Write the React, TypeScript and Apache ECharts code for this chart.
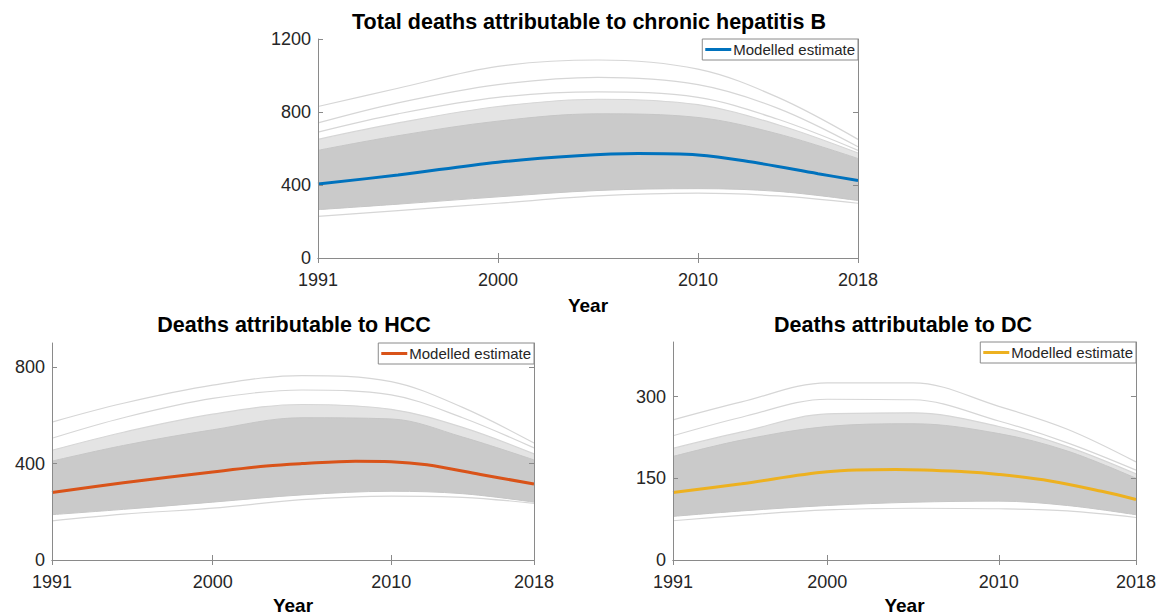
import React, { useEffect, useRef } from "react";
import * as echarts from "echarts";

// ---------- data ----------
const years = [1991, 1995, 2000, 2005, 2010, 2014, 2018];
const xTicks = [1991, 2000, 2010, 2018];

// Total deaths
const totalLow = [265, 295, 335, 370, 380, 365, 315];
const totalHigh = [590, 670, 750, 790, 770, 680, 545];
const totalG1 = [830, 930, 1050, 1085, 1035, 880, 650];
const totalG2 = [740, 850, 950, 990, 950, 820, 610];
const totalG3 = [690, 790, 880, 910, 880, 760, 590];
const totalG4 = [650, 740, 830, 870, 840, 730, 575];
const totalG5 = [228, 260, 300, 340, 355, 340, 300];
const totalEstYears = [1991, 1995, 2000, 2004, 2007, 2010, 2013, 2016, 2018];
const totalEst = [405, 455, 525, 560, 572, 565, 520, 462, 425];
const totalYTicks = [0, 400, 800, 1200];

// HCC
const hccLow = [188, 210, 240, 270, 285, 275, 240];
const hccHigh = [410, 475, 540, 590, 585, 510, 415];
const hccG1 = [572, 650, 725, 765, 740, 633, 485];
const hccG2 = [505, 590, 670, 705, 685, 590, 465];
const hccG3 = [455, 530, 605, 645, 625, 550, 440];
const hccG4 = [162, 190, 215, 250, 265, 260, 235];
const hccEstYears = [1991, 1995, 2000, 2003, 2005, 2008, 2010, 2012, 2015, 2018];
const hccEst = [280, 320, 365, 390, 400, 410, 408, 395, 355, 315];
const hccYTicks = [0, 400, 800];

// DC
const dcLow = [80, 90, 100, 106, 108, 100, 83];
const dcHigh = [190, 220, 245, 250, 232, 200, 150];
const dcG1 = [257, 290, 325, 325, 282, 240, 180];
const dcG2 = [228, 262, 295, 294, 255, 215, 165];
const dcG3 = [205, 235, 268, 270, 245, 208, 158];
const dcG4 = [72, 82, 92, 95, 94, 90, 78];
const dcEstYears = [1991, 1995, 2000, 2004, 2008, 2010, 2013, 2016, 2018];
const dcEst = [124, 140, 162, 166, 162, 157, 145, 126, 111];
const dcYTicks = [0, 150, 300];

const titles = [
  "Total deaths attributable to chronic hepatitis B",
  "Deaths attributable to HCC",
  "Deaths attributable to DC",
];
const legendLabel = "Modelled estimate";
const xName = "Year";

const pairs = (xs: number[], ys: number[]) => xs.map((x, i) => [x, ys[i]]);

const FONT = "Liberation Sans, Arial, sans-serif";
const AXIS = "#8a8a8a";
const TXT = "#262626";

export default function App() {
  const ref = useRef<HTMLDivElement>(null);
  useEffect(() => {
    const chart = echarts.init(ref.current!, null, { renderer: "svg" });

    const grids = [
      { left: 318, top: 39, width: 540, height: 219 },
      { left: 52, top: 343, width: 482, height: 219 },
      { left: 673, top: 342, width: 463, height: 220 },
    ];
    const yMax = [1200, 900, 400];
    const yTicks = [totalYTicks, hccYTicks, dcYTicks];
    const colors = ["#0072BD", "#D95319", "#EDB120"];
    const sets = [
      { low: totalLow, high: totalHigh, soft: totalG4, up: [totalG1, totalG2, totalG3, totalG4], down: [totalG5], ey: totalEstYears, ev: totalEst },
      { low: hccLow, high: hccHigh, soft: hccG3, up: [hccG1, hccG2, hccG3], down: [hccG4], ey: hccEstYears, ev: hccEst },
      { low: dcLow, high: dcHigh, soft: dcG3, up: [dcG1, dcG2, dcG3], down: [dcG4], ey: dcEstYears, ev: dcEst },
    ];

    const xAxis: any[] = [];
    const yAxis: any[] = [];
    const series: any[] = [];
    const legend: any[] = [];
    const nameGaps = [38, 36, 36];
    const fmt = (v: number) => String(v);

    grids.forEach((g, i) => {
      const baseX = {
        type: "value",
        gridIndex: i,
        min: 1991,
        max: 2018,
        z: 10,
        splitLine: { show: false },
        axisLine: { show: true, lineStyle: { color: AXIS, width: 1 } },
        axisTick: { show: true, inside: true, length: 5, customValues: xTicks, lineStyle: { color: AXIS } },
      };
      xAxis.push({
        ...baseX,
        position: "bottom",
        axisLabel: { customValues: xTicks, formatter: fmt, color: TXT, fontSize: 18, fontFamily: FONT, margin: 13 },
        name: xName,
        nameLocation: "middle",
        nameGap: nameGaps[i],
        nameTextStyle: { fontWeight: "bold", fontSize: 19, color: "#000", fontFamily: FONT },
      });
      xAxis.push({ ...baseX, position: "top", axisLabel: { show: false } });
      const baseY = {
        type: "value",
        gridIndex: i,
        min: 0,
        max: yMax[i],
        z: 10,
        splitLine: { show: false },
        axisLine: { show: true, lineStyle: { color: AXIS, width: 1 } },
        axisTick: { show: true, inside: true, length: 5, customValues: yTicks[i], lineStyle: { color: AXIS } },
      };
      yAxis.push({
        ...baseY,
        position: "left",
        axisLabel: { customValues: yTicks[i], formatter: fmt, color: TXT, fontSize: 18, fontFamily: FONT, margin: 7 },
      });
      yAxis.push({ ...baseY, position: "right", axisLabel: { show: false } });

      const s = sets[i];
      const xi = i * 2;
      const yi = i * 2;
      const common = { type: "line", xAxisIndex: xi, yAxisIndex: yi, smooth: 0.35, symbol: "none", silent: true };
      // light outer spread of simulated trajectories
      series.push({
        ...common,
        name: "soft" + i,
        lineStyle: { width: 0 },
        areaStyle: { color: "#e4e4e4", opacity: 1 },
        data: pairs(years, s.soft),
        z: 1,
      });
      // dense core of simulated trajectories
      series.push({
        ...common,
        name: "core" + i,
        lineStyle: { color: "#c6c6c6", width: 1 },
        areaStyle: { color: "#cacaca", opacity: 1 },
        data: pairs(years, s.high),
        z: 2,
      });
      // below the lowest dense trajectory: background
      series.push({
        ...common,
        name: "floor" + i,
        lineStyle: { color: "#c6c6c6", width: 1 },
        areaStyle: { color: "#ffffff", opacity: 1 },
        data: pairs(years, s.low),
        z: 3,
      });
      [...s.up, ...s.down].forEach((ln, k) => {
        series.push({
          ...common,
          name: "sim" + i + "_" + k,
          lineStyle: { color: "#d6d6d6", width: 1.2 },
          data: pairs(years, ln),
          z: 4,
        });
      });
      series.push({
        ...common,
        name: "est" + i,
        color: colors[i],
        lineStyle: { color: colors[i], width: 3 },
        data: pairs(s.ey, s.ev),
        z: 5,
      });
      legend.push({
        data: ["est" + i],
        right: 1159 - (g.left + g.width),
        top: g.top,
        orient: "horizontal",
        backgroundColor: "#fff",
        borderColor: AXIS,
        borderWidth: 1,
        borderRadius: 0,
        padding: [3, 3, 3, 3],
        icon: "rect",
        itemWidth: 26,
        itemHeight: 3,
        itemGap: 2,
        formatter: () => legendLabel,
        textStyle: { fontSize: 15, color: TXT, fontFamily: FONT, padding: [0, 0, 0, -3] },
        selectedMode: false,
        z: 20,
      });
    });

    const titleStyle = { fontSize: 21.5, fontWeight: "bold", color: "#000", fontFamily: FONT };
    chart.setOption({
      animation: false,
      backgroundColor: "#fff",
      title: [
        { text: titles[0], left: 589, top: 11, textAlign: "center", padding: 0, textStyle: titleStyle },
        { text: titles[1], left: 294, top: 314, textAlign: "center", padding: 0, textStyle: titleStyle },
        { text: titles[2], left: 903, top: 314, textAlign: "center", padding: 0, textStyle: titleStyle },
      ],
      grid: grids.map((g) => ({ ...g, show: false })),
      xAxis,
      yAxis,
      legend,
      series,
    });
    return () => chart.dispose();
  }, []);
  return <div ref={ref} style={{ position: "fixed", left: 0, top: 0, width: 1159, height: 616 }} />;
}
